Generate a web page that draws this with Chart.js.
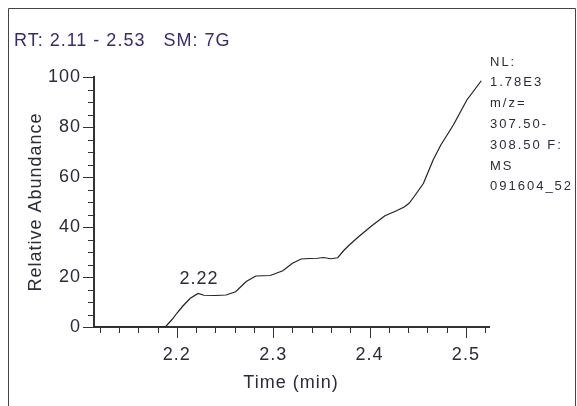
<!DOCTYPE html>
<html>
<head>
<meta charset="utf-8">
<script src="https://cdn.jsdelivr.net/npm/chart.js@4"></script>
<style>
  body { margin: 0; background: #fff; }
  canvas { display: block; }
</style>
</head>
<body>
<canvas id="chromChart" width="577" height="406"></canvas>
<script>
// chromatogram (time in min, relative abundance in %)
const times = [2.114, 2.15, 2.188, 2.195, 2.2, 2.206, 2.214, 2.222, 2.228, 2.24, 2.251, 2.261, 2.272, 2.282,
  2.29, 2.297, 2.31, 2.32, 2.329, 2.338, 2.346, 2.352, 2.36, 2.367, 2.373, 2.379, 2.388, 2.402, 2.416,
  2.428, 2.436, 2.441, 2.446, 2.456, 2.466, 2.474, 2.487, 2.501, 2.516];
const abundance = [0, 0, 0, 3, 5.5, 8.3, 11.5, 13.4, 12.7, 12.6, 12.8, 14.1, 18.2, 20.4,
  20.5, 20.6, 22.5, 25.5, 27.2, 27.4, 27.5, 27.8, 27.3, 27.7, 30.5, 32.8, 35.9, 40.4, 44.5,
  46.5, 48, 49.5, 52, 57.5, 66.8, 72.8, 80.8, 90.8, 98.5];
const xTickLabels = [2.2, 2.3, 2.4, 2.5];
const yTickLabels = [0, 20, 40, 60, 80, 100];
const peakTime = 2.222;
const peakValue = 13.4;
const peakLabel = "2.22";
const titleText = "RT: 2.11 - 2.53   SM: 7G";
const infoLines = ["NL:", "1.78E3", "m/z=", "307.50-", "308.50 F:", "MS", "091604_52"];

const FONT = "'Liberation Sans', Arial, sans-serif";
const textColor = "#2e2a3a";

const decorations = {
  id: "decorations",
  beforeDraw(chart) {
    const ctx = chart.ctx;
    ctx.save();
    ctx.fillStyle = "#fff";
    ctx.fillRect(0, 0, chart.width, chart.height);
    ctx.strokeStyle = "#444";
    ctx.lineWidth = 1;
    ctx.beginPath();
    ctx.moveTo(8.5, 420);
    ctx.lineTo(8.5, 8.5);
    ctx.lineTo(575.5, 8.5);
    ctx.lineTo(575.5, 420);
    ctx.stroke();
    ctx.restore();
    // the original's text is spaced a little wider than the font
    ctx.letterSpacing = "1px";
  },
  afterDraw(chart) {
    const ctx = chart.ctx;
    const x = chart.scales.x;
    const y = chart.scales.y;
    ctx.save();
    ctx.strokeStyle = "#333";
    ctx.lineWidth = 1;
    // x tick marks, minor every 0.02, major every 0.1
    ctx.beginPath();
    for (let i = 106; i <= 252; i++) {
      const v = i / 50;
      if (v < x.min || v > x.max) continue;
      const px = Math.round(x.getPixelForValue(v)) + 0.5;
      const major = i % 5 === 0;
      ctx.moveTo(px, y.bottom);
      ctx.lineTo(px, y.bottom + (major ? 11 : 6));
    }
    // y tick marks, minor every 5, major every 20
    for (let v = 0; v <= 100; v += 5) {
      const py = Math.round(y.getPixelForValue(v)) + 0.5;
      const major = v % 20 === 0;
      ctx.moveTo(x.left, py);
      ctx.lineTo(x.left - (major ? 11 : 6), py);
    }
    ctx.stroke();

    ctx.letterSpacing = "1px";
    ctx.fillStyle = "#3b2a6e";
    ctx.font = "18px " + FONT;
    ctx.textBaseline = "middle";
    ctx.textAlign = "left";
    ctx.fillText(titleText, 14, 41);

    ctx.fillStyle = textColor;
    ctx.textAlign = "center";
    ctx.fillText("Time (min)", 291, 383);
    ctx.fillText(peakLabel, x.getPixelForValue(peakTime) + 1, y.getPixelForValue(peakValue) - 14);

    ctx.save();
    ctx.translate(36, 202);
    ctx.rotate(-Math.PI / 2);
    ctx.fillText("Relative Abundance", 0, 0);
    ctx.restore();

    ctx.letterSpacing = "2px";
    ctx.font = "13px " + FONT;
    ctx.textAlign = "left";
    infoLines.forEach((line, i) => {
      ctx.fillText(line, 490, 62 + i * 20.8);
    });
    ctx.restore();
  },
};

const ctx = document.getElementById("chromChart").getContext("2d");
const chromChart = new Chart(ctx, {
  type: "line",
  data: {
    datasets: [
      {
        label: "TIC",
        data: times.map((t, i) => ({ x: t, y: abundance[i] })),
        borderColor: "#222",
        borderWidth: 1.2,
        pointRadius: 0,
        tension: 0,
        fill: false,
      },
    ],
  },
  options: {
    responsive: false,
    animation: false,
    layout: { padding: { left: 0, top: 77, right: 88, bottom: 0 } },
    plugins: {
      legend: { display: false },
      tooltip: { enabled: false },
      title: { display: false },
    },
    scales: {
      x: {
        type: "linear",
        min: 2.114,
        max: 2.524,
        afterBuildTicks: (scale) => {
          scale.ticks = xTickLabels.map((v) => ({ value: v }));
        },
        afterFit: (scale) => {
          scale.height = 79;
          scale.paddingLeft = 0;
          scale.paddingRight = 0;
        },
        grid: { display: true, drawOnChartArea: false, drawTicks: false },
        border: { display: true, color: "#333", width: 2 },
        ticks: {
          padding: 17,
          maxRotation: 0,
          autoSkip: false,
          color: textColor,
          font: { family: FONT, size: 18 },
          callback: (v) => Number(v).toFixed(1),
        },
      },
      y: {
        min: 0,
        max: 100,
        afterBuildTicks: (scale) => {
          scale.ticks = yTickLabels.map((v) => ({ value: v }));
        },
        afterFit: (scale) => {
          scale.width = 94;
          scale.paddingTop = 0;
          scale.paddingBottom = 0;
        },
        grid: { display: true, drawOnChartArea: false, drawTicks: false },
        border: { display: true, color: "#333", width: 2 },
        ticks: {
          padding: 13,
          autoSkip: false,
          color: textColor,
          font: { family: FONT, size: 18 },
        },
      },
    },
  },
  plugins: [decorations],
});
</script>
</body>
</html>
